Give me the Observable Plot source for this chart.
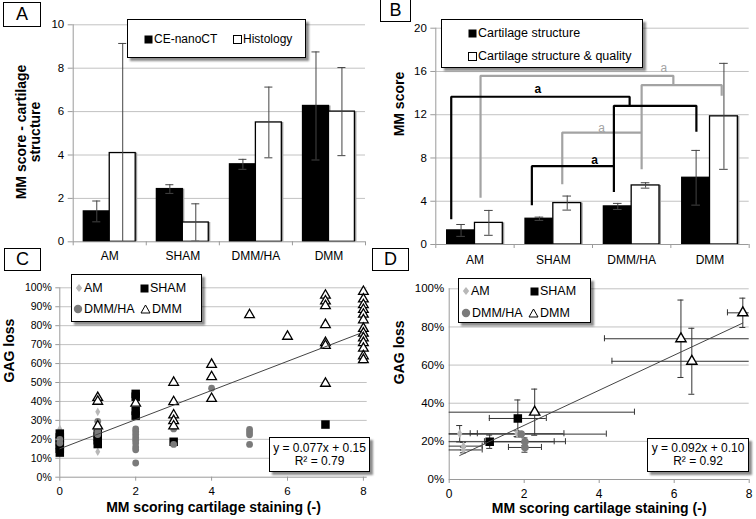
<!DOCTYPE html>
<html>
<head>
<meta charset="utf-8">
<script src="https://cdn.jsdelivr.net/npm/d3@7"></script>
<script src="https://cdn.jsdelivr.net/npm/@observablehq/plot@0.6"></script>
<style>
html,body{margin:0;padding:0;background:#fff;}
#root{position:relative;width:756px;height:519px;overflow:hidden;background:#fff;font-family:"Liberation Sans",Arial,sans-serif;color:#000;}
.panel{position:absolute;}
.panel svg{overflow:visible;background:transparent;}
.box{position:absolute;box-sizing:border-box;border:1px solid #000;background:#fff;}
.shadow{box-shadow:3px 3px 2px rgba(0,0,0,0.45);}
.letter{font-size:18px;display:flex;align-items:center;justify-content:center;}
.item{position:absolute;white-space:nowrap;line-height:14px;height:14px;display:flex;align-items:center;}
.item svg{margin-right:1px;flex:none;}
.eq{font-size:12px;text-align:center;line-height:13px;display:flex;flex-direction:column;justify-content:center;}
.ytitle{position:absolute;font-weight:bold;font-size:14px;line-height:13.5px;text-align:center;white-space:nowrap;transform:translate(-50%,-50%) rotate(-90deg);}
</style>
</head>
<body>
<div id="root"></div>
<script>
// ---------------- DATA ----------------
const categories = ["AM", "SHAM", "DMM/HA", "DMM"];

// Panel A: MM score - cartilage structure
const aSeries = ["CE-nanoCT", "Histology"];
const aNanoCT = [1.40, 2.43, 3.57, 6.26];
const aNanoCTErr = [0.48, 0.20, 0.23, 2.49];
const aHistology = [4.09, 0.89, 5.50, 6.00];
const aHistologyErr = [5.05, 0.86, 1.63, 2.03];
const aTicksY = [0, 2, 4, 6, 8, 10];
const aTitleLines = ["MM score - cartilage", "structure"];

// Panel B: MM score
const bSeries = ["Cartilage structure", "Cartilage structure & quality"];
const bStructure = [1.30, 2.38, 3.52, 6.17];
const bStructureErr = [0.55, 0.15, 0.28, 2.53];
const bQuality = [2.00, 3.83, 5.46, 11.85];
const bQualityErr = [1.15, 0.65, 0.25, 4.90];
const bTicksY = [0, 4, 8, 12, 16, 20];
// significance brackets (x in category units, y in score units)
const bBrackets = [
  {color: "gray",  pts: [[0.571, 4.33], [0.571, 15.60], [3.032, 15.60], [3.032, 14.83]]},
  {color: "gray",  pts: [[2.627, 6.96], [2.627, 14.74], [3.649, 14.74], [3.649, 13.75]]},
  {color: "gray",  pts: [[1.614, 5.57], [1.614, 10.35], [2.627, 10.35]]},
  {color: "black", pts: [[0.197, 2.33], [0.197, 13.66], [2.474, 13.66], [2.474, 12.90]]},
  {color: "black", pts: [[2.273, 4.86], [2.273, 12.82], [3.326, 12.82], [3.326, 10.42]]},
  {color: "black", pts: [[1.226, 3.63], [1.226, 7.24], [2.273, 7.24]]}
];
const bBracketLabels = [
  {x: 1.302, y: 14.37, t: "a", color: "black"},
  {x: 2.027, y: 7.82, t: "a", color: "black"},
  {x: 2.912, y: 16.31, t: "a", color: "gray"},
  {x: 2.116, y: 10.72, t: "a", color: "gray"}
];

// Panel C: GAG loss (%) vs MM scoring (individual samples)
const groups = ["AM", "SHAM", "DMM/HA", "DMM"];
const cAM = [[0, 25.5], [0, 16], [1, 34.5], [1, 21], [1, 13.5]];
const cSHAM = [[0, 13], [0, 15], [0, 17], [0, 19], [0, 21], [0, 23],
  [1, 17.5], [1, 19.5], [1, 21.5], [1, 23],
  [2, 44], [2, 42.5], [2, 35], [2, 32.5], [3, 18.7], [7, 27.8]];
const cDMMHA = [[0, 20], [0, 18], [1, 29.5], [1, 24], [1, 22.5],
  [2, 25.5], [2, 24], [2, 22.5], [2, 21], [2, 19.5], [2, 18], [2, 16], [2, 14.5], [2, 7.5],
  [3, 25.5], [3, 17.3], [4, 47], [5, 25.2], [5, 23.8], [5, 22.4], [5, 17.3]];
const cDMM = [[1, 42], [1, 40], [1, 27], [2, 39],
  [3, 50], [3, 39.8], [3, 32.8], [3, 29.8], [3, 27],
  [4, 59.5], [4, 53], [4, 41.5], [5, 85.7], [6, 74.3],
  [7, 96], [7, 93], [7, 90.5], [7, 80.5], [7, 71], [7, 69.5], [7, 49.5],
  [8, 98], [8, 94], [8, 91], [8, 88.5], [8, 86], [8, 83], [8, 78.5], [8, 76], [8, 73.5], [8, 71], [8, 68], [8, 64], [8, 62]];
const cFit = {slope: 0.077, intercept: 0.15, r2: 0.79, from: 0, to: 8};
const cTicksX = [0, 2, 4, 6, 8];
const cTicksY = [0, 10, 20, 30, 40, 50, 60, 70, 80, 90, 100];

// Panel D: group means [x, y%, xErr, yErr%]
const dAM = [[0.28, 24.0, 0.47, 4.3], [0.38, 17.5, 0.50, 2.0], [0.38, 15.5, 0.50, 1.5], [1.81, 24.0, 1.25, 1.5]];
const dSHAM = [[1.08, 19.8, 1.72, 3.5], [1.83, 32.0, 0.76, 9.7]];
const dDMMHA = [[1.92, 23.8, 2.27, 1.2], [2.02, 19.8, 1.08, 2.0], [2.02, 16.8, 0.44, 2.5]];
const dDMM = [[2.28, 35.3, 2.66, 12.1], [6.18, 73.8, 2.04, 20.3], [6.47, 62.0, 2.13, 17.3], [7.83, 87.4, 0.41, 7.7]];
const dFit = {slope: 0.092, intercept: 0.10, r2: 0.92, from: 0.28, to: 7.83};
const dTicksX = [0, 2, 4, 6, 8];
const dTicksY = [0, 20, 40, 60, 80, 100];

// ---------------- STYLE ----------------
const FONT = '"Liberation Sans", Arial, sans-serif';
const GRID = "#c2c2c2";
const AXIS = "#9a9a9a";
const ERR = "#444";
const AMC = "#b8b8b8";
const HAC = "#7a7a7a";
const BAR = 0.355;   // bar width in category units
const CAP = 0.055;   // error-cap half width in category units

const root = document.getElementById("root");
function place(el, left, top, w) {
  const d = document.createElement("div");
  d.className = "panel";
  d.style.left = left + "px"; d.style.top = top + "px"; d.style.width = w + "px";
  d.appendChild(el);
  root.appendChild(d);
}
function svgStyle(fs) {
  return {fontFamily: FONT, fontSize: fs + "px", color: "#000", background: "transparent", overflow: "visible"};
}

function bars(values, errs, side) {
  return values.map((v, i) => {
    const x1 = i + 0.5 - BAR + side * BAR;
    return {i, value: v, err: errs[i], x1, x2: x1 + BAR, cx: x1 + BAR / 2};
  });
}
function barMarks(rows, fill) {
  return [
    Plot.rectY(rows, {x1: "x1", x2: "x2", y1: 0, y2: "value", fill: "#9a9a9a", dx: 2}),
    Plot.rectY(rows, {x1: "x1", x2: "x2", y1: 0, y2: "value", fill, stroke: "#000", strokeWidth: 1.3})
  ];
}
function errMarks(rows) {
  return [
    Plot.ruleX(rows, {x: "cx", y1: d => d.value - d.err, y2: d => d.value + d.err, stroke: ERR, strokeWidth: 1, clip: true}),
    Plot.ruleY(rows, {y: d => d.value + d.err, x1: d => d.cx - CAP, x2: d => d.cx + CAP, stroke: ERR, strokeWidth: 1, clip: true}),
    Plot.ruleY(rows, {y: d => d.value - d.err, x1: d => d.cx - CAP, x2: d => d.cx + CAP, stroke: ERR, strokeWidth: 1, clip: true})
  ];
}
function categoryAxes(pad) {
  return [
    Plot.axisX([0, 1, 2, 3, 4], {tickSize: 4, tickFormat: () => "", stroke: AXIS, label: null}),
    Plot.axisX([0.5, 1.5, 2.5, 3.5], {tickSize: 0, tickPadding: pad, tickFormat: d => categories[Math.floor(d)], label: null, fontSize: 12})
  ];
}
function yTitle(text, dx) {
  return Plot.text([text], {text: d => d, frameAnchor: "left", rotate: -90, dx, fontWeight: "bold", fontSize: 14});
}

// ---------------- PANEL A ----------------
const aRows0 = bars(aNanoCT, aNanoCTErr, 0);
const aRows1 = bars(aHistology, aHistologyErr, 1);
place(Plot.plot({
  width: 378, height: 270,
  marginLeft: 72.7, marginRight: 13, marginTop: 24.3, marginBottom: 28.7,
  x: {domain: [0, 4]}, y: {domain: [0, 10]},
  style: svgStyle(11.5),
  marks: [
    Plot.gridY(aTicksY.slice(1), {stroke: GRID, strokeOpacity: 1}),
    ...barMarks(aRows0, "#000"), ...barMarks(aRows1, "#fff"),
    ...errMarks(aRows0), ...errMarks(aRows1),
    Plot.ruleX([0], {stroke: AXIS}),
    Plot.ruleY([0], {stroke: AXIS}),
    Plot.axisY(aTicksY, {tickSize: 5, tickPadding: 4, stroke: AXIS, label: null}),
    ...categoryAxes(10)
  ]
}), 0, 0, 378);
// A's two-line y title (HTML, rotated)
const at = document.createElement("div");
at.className = "ytitle";
at.style.left = "28px"; at.style.top = "132px";
at.innerHTML = aTitleLines.join("<br>");
root.appendChild(at);

// ---------------- PANEL B ----------------
const bRows0 = bars(bStructure, bStructureErr, 0);
const bRows1 = bars(bQuality, bQualityErr, 1);
const bPts = bBrackets.flatMap((b, k) => b.pts.map(([x, y]) => ({k, x, y, color: b.color})));
place(Plot.plot({
  width: 378, height: 270,
  marginLeft: 57.3, marginRight: 7.3, marginTop: 27.7, marginBottom: 26,
  x: {domain: [0, 4]}, y: {domain: [0, 20]},
  style: svgStyle(11.5),
  marks: [
    Plot.gridY(bTicksY.slice(1), {stroke: GRID, strokeOpacity: 1}),
    ...barMarks(bRows0, "#000"), ...barMarks(bRows1, "#fff"),
    ...errMarks(bRows0), ...errMarks(bRows1),
    Plot.ruleX([0], {stroke: AXIS}),
    Plot.ruleY([0], {stroke: AXIS}),
    Plot.line(bPts.filter(d => d.color === "gray"), {x: "x", y: "y", z: "k", stroke: "#a3a3a3", strokeWidth: 2.2, strokeLinejoin: "miter", strokeLinecap: "butt"}),
    Plot.line(bPts.filter(d => d.color === "black"), {x: "x", y: "y", z: "k", stroke: "#000", strokeWidth: 2.2, strokeLinejoin: "miter", strokeLinecap: "butt"}),
    Plot.text(bBracketLabels.filter(d => d.color === "black"), {x: "x", y: "y", text: "t", fill: "#000", fontWeight: "bold", fontSize: 12}),
    Plot.text(bBracketLabels.filter(d => d.color === "gray"), {x: "x", y: "y", text: "t", fill: "#a3a3a3", fontSize: 12}),
    Plot.axisY(bTicksY, {tickSize: 5, tickPadding: 4, stroke: AXIS, label: null}),
    ...categoryAxes(11),
    yTitle("MM score", -36)
  ]
}), 378, 0, 378);

// ---------------- PANEL C ----------------
const xy = {x: d => d[0], y: d => d[1]};
place(Plot.plot({
  width: 378, height: 257,
  marginLeft: 59.3, marginRight: 11.3, marginTop: 25.3, marginBottom: 42.3,
  x: {domain: [0, 8.1]}, y: {domain: [0, 100]},
  style: svgStyle(10.5),
  marks: [
    Plot.gridY(cTicksY.slice(1), {stroke: GRID, strokeOpacity: 1}),
    Plot.ruleX([0], {stroke: AXIS}),
    Plot.ruleY([0], {stroke: AXIS}),
    Plot.dot(cAM, {...xy, symbol: "diamond", r: 2.6, fill: AMC}),
    Plot.dot(cSHAM, {...xy, symbol: "square", r: 4.8, fill: "#000"}),
    Plot.dot(cDMMHA, {...xy, symbol: "circle", r: 3.4, fill: HAC}),
    Plot.dot(cDMM, {...xy, symbol: "triangle", r: 3.6, fill: "#fff", stroke: "#000", strokeWidth: 1.3}),
    Plot.line([cFit.from, cFit.to], {x: d => d, y: d => (cFit.slope * d + cFit.intercept) * 100, stroke: "#444", strokeWidth: 1}),
    Plot.axisY(cTicksY, {tickSize: 4, tickPadding: 4, stroke: AXIS, tickFormat: d => d + "%", label: null}),
    Plot.axisX(cTicksX, {tickSize: 4, tickPadding: 6, stroke: AXIS, label: null, fontSize: 11.5}),
    yTitle("GAG loss", -50),
    Plot.text(["MM scoring cartilage staining (-)"], {text: d => d, frameAnchor: "bottom", dy: 35, fontWeight: "bold", fontSize: 14})
  ]
}), 0, 262, 378);

// ---------------- PANEL D ----------------
const toRows = (arr, g) => arr.map(([x, y, xe, ye]) => ({g, x, y, xe, ye}));
const dAll = [...toRows(dAM, "AM"), ...toRows(dSHAM, "SHAM"), ...toRows(dDMMHA, "DMM/HA"), ...toRows(dDMM, "DMM")];
const CAPX = 0.08, CAPY = 1.6;
const eb = {stroke: "#333", strokeWidth: 1, clip: true};
place(Plot.plot({
  width: 378, height: 257,
  marginLeft: 70.7, marginRight: 7.3, marginTop: 26.3, marginBottom: 40,
  x: {domain: [0, 8]}, y: {domain: [0, 100]},
  style: svgStyle(11.5),
  marks: [
    Plot.gridY(dTicksY.slice(1), {stroke: GRID, strokeOpacity: 1}),
    Plot.ruleX([0], {stroke: AXIS}),
    Plot.ruleY([0], {stroke: AXIS}),
    Plot.ruleY(dAll, {y: "y", x1: d => d.x - d.xe, x2: d => d.x + d.xe, ...eb}),
    Plot.ruleX(dAll, {x: d => d.x - d.xe, y1: d => d.y - CAPY, y2: d => d.y + CAPY, ...eb}),
    Plot.ruleX(dAll, {x: d => d.x + d.xe, y1: d => d.y - CAPY, y2: d => d.y + CAPY, ...eb}),
    Plot.ruleX(dAll, {x: "x", y1: d => d.y - d.ye, y2: d => d.y + d.ye, ...eb}),
    Plot.ruleY(dAll, {y: d => d.y + d.ye, x1: d => d.x - CAPX, x2: d => d.x + CAPX, ...eb}),
    Plot.ruleY(dAll, {y: d => d.y - d.ye, x1: d => d.x - CAPX, x2: d => d.x + CAPX, ...eb}),
    Plot.dot(dAll.filter(d => d.g === "AM"), {x: "x", y: "y", symbol: "diamond", r: 2.8, fill: AMC}),
    Plot.dot(dAll.filter(d => d.g === "SHAM"), {x: "x", y: "y", symbol: "square", r: 4.8, fill: "#000"}),
    Plot.dot(dAll.filter(d => d.g === "DMM/HA"), {x: "x", y: "y", symbol: "circle", r: 3.8, fill: HAC}),
    Plot.dot(dAll.filter(d => d.g === "DMM"), {x: "x", y: "y", symbol: "triangle", r: 3.8, fill: "#fff", stroke: "#000", strokeWidth: 1.4}),
    Plot.line([dFit.from, dFit.to], {x: d => d, y: d => (dFit.slope * d + dFit.intercept) * 100, stroke: "#444", strokeWidth: 1}),
    Plot.axisY(dTicksY, {tickSize: 0, tickPadding: 5, tickFormat: d => d + "%", label: null}),
    Plot.axisX(dTicksX, {tickSize: 4, tickPadding: 6, stroke: AXIS, label: null, fontSize: 12}),
    yTitle("GAG loss", -50),
    Plot.text(["MM scoring cartilage staining (-)"], {text: d => d, frameAnchor: "bottom", dy: 33, fontWeight: "bold", fontSize: 14})
  ]
}), 378, 262, 378);

// ---------------- HTML overlays: letters, legends, equations ----------------
const sym = {
  blackSquare: '<svg width="9" height="9"><rect x="0.5" y="0.5" width="8" height="8" fill="#000"/></svg>',
  whiteSquare: '<svg width="9" height="9"><rect x="0.5" y="0.5" width="8" height="8" fill="#fff" stroke="#000" stroke-width="1"/></svg>',
  diamond: '<svg width="8" height="10"><path d="M4 1 L7.2 5 L4 9 L0.8 5Z" fill="' + AMC + '"/></svg>',
  circle: '<svg width="10" height="10"><circle cx="5" cy="5" r="4.2" fill="' + HAC + '"/></svg>',
  triangle: '<svg width="11" height="10"><path d="M5.5 1 L10 9 L1 9Z" fill="#fff" stroke="#000" stroke-width="1"/></svg>'
};
function box(left, top, w, h, cls) {
  const b = document.createElement("div");
  b.className = "box " + (cls || "");
  b.style.left = left + "px"; b.style.top = top + "px";
  b.style.width = w + "px"; b.style.height = h + "px";
  root.appendChild(b);
  return b;
}
function item(parent, s, label, left, top, fs) {
  const it = document.createElement("div");
  it.className = "item";
  it.style.left = left + "px"; it.style.top = top + "px"; it.style.fontSize = fs + "px";
  it.innerHTML = s + "<span>" + label + "</span>";
  parent.appendChild(it);
}
[["A", 3, 2, 38, 25], ["B", 380, -1, 31, 23], ["C", 4, 248, 37, 23], ["D", 372, 248, 37, 23]].forEach(([t, l, tp, w, h]) => {
  const b = box(l, tp, w, h, "letter");
  b.textContent = t;
});

const la = box(127, 19, 179, 39, "shadow");
item(la, sym.blackSquare, aSeries[0], 16, 12, 12);
item(la, sym.whiteSquare, aSeries[1], 105, 12, 12);

const lb = box(441, 19, 202, 49, "shadow");
item(lb, sym.blackSquare, bSeries[0], 26, 6, 12.5);
item(lb, sym.whiteSquare, bSeries[1], 26, 29, 12.5);

const legendSyms = [sym.diamond, sym.blackSquare, sym.circle, sym.triangle];
const lc = box(71, 274, 131, 48, "shadow");
item(lc, legendSyms[0], groups[0], 3, 6, 12.5);
item(lc, legendSyms[1], groups[1], 68, 6, 12.5);
item(lc, legendSyms[2], groups[2], 1, 27, 12.5);
item(lc, legendSyms[3], groups[3], 68, 27, 12.5);

const ld = box(458, 278, 133, 45, "shadow");
item(ld, legendSyms[0], groups[0], 3, 5, 12.5);
item(ld, legendSyms[1], groups[1], 71, 5, 12.5);
item(ld, legendSyms[2], groups[2], 2, 27, 12.5);
item(ld, legendSyms[3], groups[3], 69, 27, 12.5);

function eqBox(left, top, w, h, fit) {
  const b = box(left, top, w, h, "eq shadow");
  b.innerHTML = "<div>y = " + fit.slope + "x + " + fit.intercept.toFixed(2) + "</div><div>R² = " + fit.r2.toFixed(2) + "</div>";
}
eqBox(269, 437, 101, 35, cFit);
eqBox(647, 438, 102, 34, dFit);
</script>
</body>
</html>
